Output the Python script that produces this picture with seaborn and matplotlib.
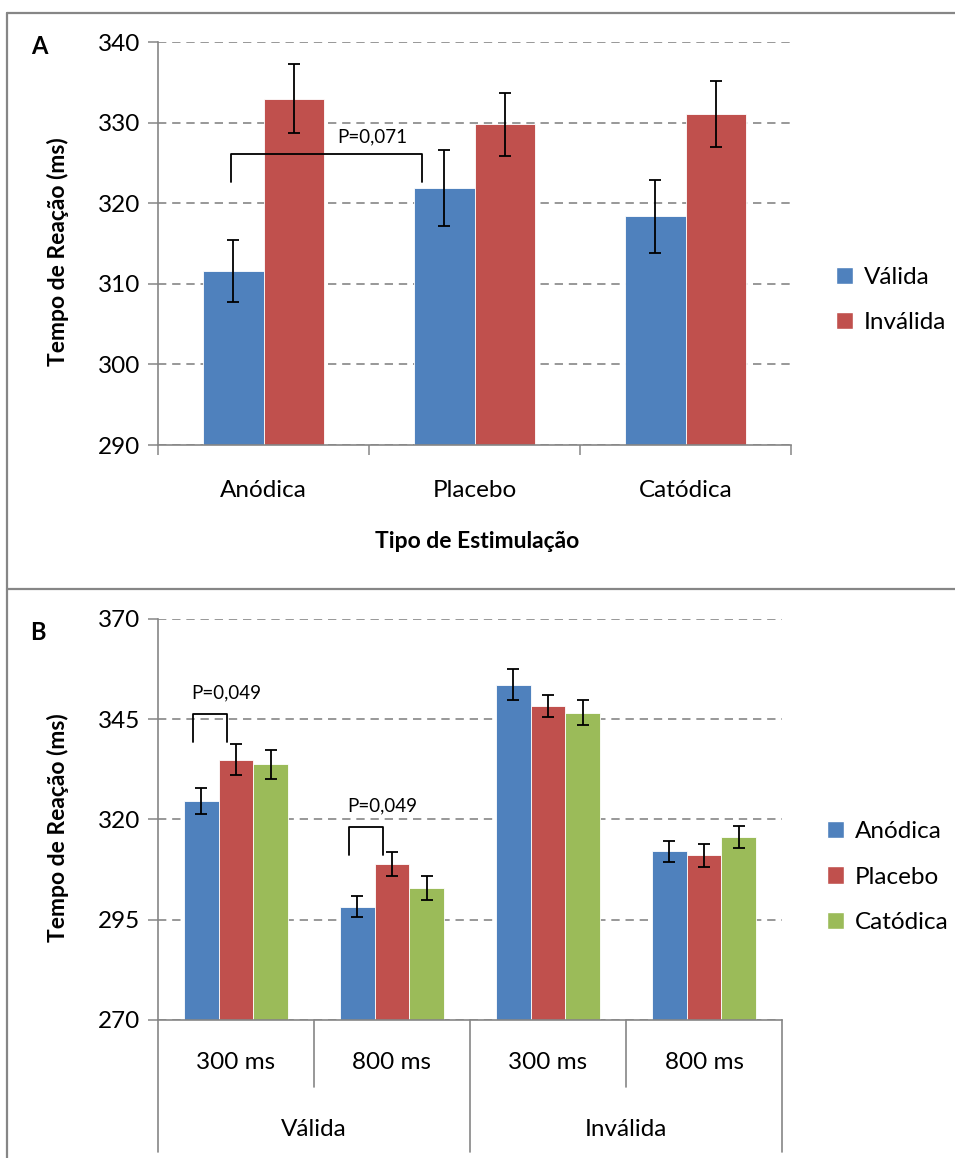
import matplotlib
matplotlib.use("Agg")
import matplotlib.pyplot as plt
from matplotlib.lines import Line2D
from matplotlib.patches import Patch
import seaborn as sns
import pandas as pd
import numpy as np

# ---- Panel A: reaction time by stimulation type and cue validity ----
stim_types = ["Anódica", "Placebo", "Catódica"]
cue_types = ["Válida", "Inválida"]
rt_valid = [311.6, 321.9, 318.4]
rt_invalid = [333.0, 329.8, 331.1]
err_valid = [3.85, 4.75, 4.5]
err_invalid = [4.3, 3.9, 4.15]

# ---- Panel B: reaction time by cue validity x SOA, per stimulation ----
conditions = ["Válida", "Válida", "Inválida", "Inválida"]
soa_labels = ["300 ms", "800 ms", "300 ms", "800 ms"]
rt_anodal = [324.5, 298.2, 353.6, 312.0]
rt_placebo = [334.9, 308.8, 348.3, 311.0]
rt_cathodal = [333.7, 302.8, 346.6, 315.6]
err_anodal = [3.2, 2.6, 3.75, 2.55]
err_placebo = [3.95, 2.95, 2.75, 2.9]
err_cathodal = [3.65, 3.0, 3.05, 2.85]

BLUE, RED, GREEN = "#4F81BD", "#C0504D", "#9BBB59"
GRAY = "#868686"
FONT = ["Lato", "DejaVu Sans"]

sns.set_theme(style="white")
plt.rcParams["font.family"] = FONT
plt.rcParams["text.color"] = "black"
plt.rcParams["xtick.color"] = GRAY
plt.rcParams["ytick.color"] = GRAY
plt.rcParams["xtick.labelcolor"] = "black"
plt.rcParams["ytick.labelcolor"] = "black"

W, H = 955, 1158
fig = plt.figure(figsize=(W / 100, H / 100), dpi=100)

TICK_FS = 17.5
BOLD_FS = 16.5


def fx(px):
    return px / W


def fy(py):
    return 1 - py / H


def style_axis(ax, ymin, ymax, step):
    ax.set_ylim(ymin, ymax)
    ax.set_yticks(np.arange(ymin, ymax + 0.1, step))
    ax.tick_params(axis="y", which="major", length=7, width=1.1, color=GRAY,
                   labelsize=TICK_FS, pad=6, left=True)
    ax.yaxis.grid(True, linestyle=(0, (5, 3.5)), color=GRAY, linewidth=1.2)
    ax.xaxis.grid(False)
    ax.set_axisbelow(True)
    for s in ["top", "right"]:
        ax.spines[s].set_visible(False)
    for s in ["left", "bottom"]:
        ax.spines[s].set_color(GRAY)
        ax.spines[s].set_linewidth(1.2)
    ax.set_xlabel("")
    ax.set_ylabel("")


def add_errorbars(ax, values_by_hue, errs_by_hue, n_cat):
    # bar containers are ordered by hue level; patches inside by category
    for cont, vals, errs in zip(ax.containers, values_by_hue, errs_by_hue):
        xs = [p.get_x() + p.get_width() / 2 for p in cont.patches[:n_cat]]
        ax.errorbar(xs, vals, yerr=errs, fmt="none", ecolor="black",
                    elinewidth=1.3, capsize=4.5, capthick=1.3, zorder=5)


def bracket(ax, x0, x1, y_top, y_bot, label, tx, ty):
    ax.plot([x0, x0, x1, x1], [y_bot, y_top, y_top, y_bot], color="black",
            linewidth=1.3, zorder=6)
    ax.text(tx, ty, label, ha="center", va="center", fontsize=13.5, zorder=6)


# ----------------------------- Panel A -----------------------------
dfa = pd.DataFrame({
    "stim": stim_types * 2,
    "cue": [cue_types[0]] * 3 + [cue_types[1]] * 3,
    "rt": rt_valid + rt_invalid,
})
axA = fig.add_axes([fx(158), fy(445), fx(791 - 158), (445 - 42.3) / H])
sns.barplot(data=dfa, x="stim", y="rt", hue="cue", order=stim_types,
            hue_order=cue_types, palette=[BLUE, RED], saturation=1,
            width=0.575, errorbar=None, edgecolor="white", linewidth=0.6,
            legend=False, ax=axA)
style_axis(axA, 290, 340, 10)
axA.set_xlim(-0.5, 2.5)
axA.set_xticks([0, 1, 2])
axA.set_xticklabels(stim_types)
axA.set_xticks([-0.5, 0.5, 1.5, 2.5], minor=True)
axA.tick_params(axis="x", which="major", length=0, labelsize=TICK_FS, pad=25)
axA.tick_params(axis="x", which="minor", length=7, width=1.1, color=GRAY,
                bottom=True)
add_errorbars(axA, [rt_valid, rt_invalid], [err_valid, err_invalid], 3)
bracket(axA, -0.155, 0.75, 326.1, 322.65, "P=0,071", 0.515, 328.2)

fig.text(fx(477), fy(541), "Tipo de Estimulação", ha="center", va="center",
         fontsize=BOLD_FS, fontweight="bold")
fig.text(fx(58), fy(252), "Tempo de Reação (ms)", rotation=90, ha="center",
         va="center", fontsize=BOLD_FS, fontweight="bold")
fig.text(fx(39), fy(47), "A", ha="center", va="center", fontsize=17,
         fontweight="bold")
axA.legend(handles=[Patch(facecolor=BLUE, label=cue_types[0]),
                    Patch(facecolor=RED, label=cue_types[1])],
           loc="center left", bbox_to_anchor=(fx(826), fy(300)),
           bbox_transform=fig.transFigure, frameon=False, fontsize=TICK_FS,
           handlelength=0.7, handleheight=0.7, handletextpad=0.45,
           labelspacing=1.0, borderaxespad=0)

# ----------------------------- Panel B -----------------------------
stim_b = ["Anódica", "Placebo", "Catódica"]
cond_keys = [f"{c} {s}" for c, s in zip(conditions, soa_labels)]
dfb = pd.DataFrame({
    "cond": cond_keys * 3,
    "stim": [stim_b[0]] * 4 + [stim_b[1]] * 4 + [stim_b[2]] * 4,
    "rt": rt_anodal + rt_placebo + rt_cathodal,
})
axB = fig.add_axes([fx(158), fy(1020), fx(782 - 158), (1020 - 618.7) / H])
sns.barplot(data=dfb, x="cond", y="rt", hue="stim", order=cond_keys,
            hue_order=stim_b, palette=[BLUE, RED, GREEN], saturation=1,
            width=0.666, errorbar=None, edgecolor="white", linewidth=0.6,
            legend=False, ax=axB)
style_axis(axB, 270, 370, 25)
axB.set_xlim(-0.5, 3.5)
axB.set_xticks([0, 1, 2, 3])
axB.set_xticklabels(soa_labels)
axB.tick_params(axis="x", which="major", length=0, labelsize=TICK_FS, pad=23)
add_errorbars(axB, [rt_anodal, rt_placebo, rt_cathodal],
              [err_anodal, err_placebo, err_cathodal], 4)

# category separators below the axis: short between SOAs, long between cues
xt = axB.get_xaxis_transform()
ax_h = 1020 - 618.7
for xb, bottom_px in [(-0.5, 1152), (0.5, 1087), (1.5, 1152), (2.5, 1087),
                      (3.5, 1152)]:
    axB.plot([xb, xb], [0, -(bottom_px - 1020) / ax_h], color=GRAY,
             linewidth=1.2, transform=xt, clip_on=False)
for xc, name in [(0.5, "Válida"), (2.5, "Inválida")]:
    axB.text(xc, -(1130 - 1020) / ax_h, name, transform=xt, ha="center",
             va="center", fontsize=TICK_FS)

bracket(axB, -0.278, -0.06, 346.2, 339.2, "P=0,049", -0.065, 351.6)
bracket(axB, 0.724, 0.944, 318.2, 311.1, "P=0,049", 0.939, 323.4)

fig.text(fx(58), fy(828), "Tempo de Reação (ms)", rotation=90, ha="center",
         va="center", fontsize=BOLD_FS, fontweight="bold")
fig.text(fx(38), fy(632), "B", ha="center", va="center", fontsize=17,
         fontweight="bold")
axB.legend(handles=[Patch(facecolor=c, label=n)
                    for c, n in zip([BLUE, RED, GREEN], stim_b)],
           loc="center left", bbox_to_anchor=(fx(817), fy(877)),
           bbox_transform=fig.transFigure, frameon=False, fontsize=TICK_FS,
           handlelength=0.7, handleheight=0.7, handletextpad=0.45,
           labelspacing=1.0, borderaxespad=0)

# figure frame: left edge, top edge and the divider between panels
for xs, ys in [([7, 7], [13, H]), ([7, W], [13, 13]), ([7, W], [589, 589])]:
    fig.add_artist(Line2D([fx(v) for v in xs], [fy(v) for v in ys],
                          color=GRAY, linewidth=1.6))

fig.savefig("out.png", dpi=100)
